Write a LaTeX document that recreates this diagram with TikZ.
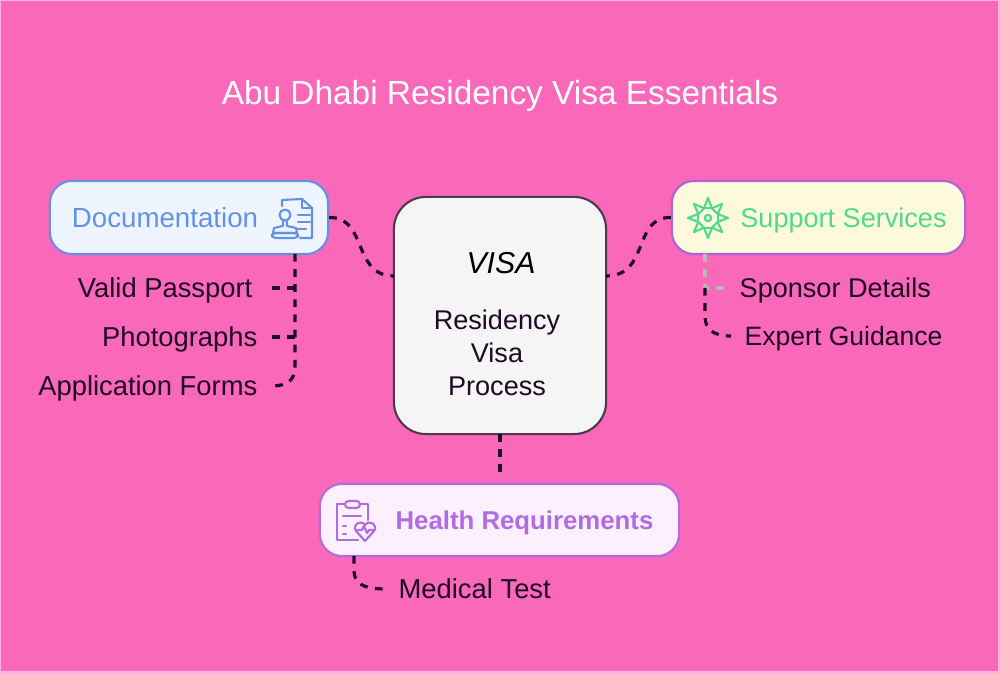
\documentclass[tikz,border=0pt]{standalone}
\usepackage{fontspec}
\setmainfont{Liberation Sans}
\definecolor{bg_edge}{HTML}{FBB4DE}
\definecolor{bg_pink}{HTML}{F968B9}
\definecolor{ink}{HTML}{1E0A22}
\definecolor{doc_blue}{HTML}{6492E2}
\definecolor{doc_fill}{HTML}{EFF5FF}
\definecolor{sup_green}{HTML}{52D88E}
\definecolor{sup_edge}{HTML}{A964D6}
\definecolor{sup_fill}{HTML}{FDF9DC}
\definecolor{hea_purple}{HTML}{B06CE2}
\definecolor{hea_fill}{HTML}{FCF0FE}
\begin{document}
\begin{tikzpicture}[
		x=0.01cm, y=-0.01cm,
		box/.style={rectangle, rounded corners=2.2mm, line width=0.6pt, minimum height=0.73cm, inner sep=0},
		item/.style={text=ink, font=\fontsize{7.78pt}{9pt}\selectfont, inner sep=0},
		link/.style={line width=0.9pt, dash pattern=on 2.2pt off 2.1pt, draw=ink},
		icon/.style={line width=0.6pt, line join=round, line cap=round}
	]
  \useasboundingbox (0,0) rectangle (1000,674);
  \fill[bg_edge] (0,0) rectangle (1000,674);
  \fill[bg_pink] (1.5,1) rectangle (998,671);
  \node (title) [anchor=base, text=white, font=\fontsize{9.5pt}{11pt}\selectfont, inner sep=0] at (500,104.5) {Abu Dhabi Residency Visa Essentials};
  % boxes
  \node (process) [box, rounded corners=3.2mm, draw=ink!80, fill=white!96!black, minimum width=2.12cm, minimum height=2.37cm] at (500,315.5) {};
  \node (visa) [anchor=base, inner sep=0, text=black, font=\fontsize{8.6pt}{11pt}\selectfont\itshape] at (501,274) {VISA};
  \node (process_text) [item, align=center, font=\fontsize{7.7pt}{9.4pt}\selectfont] at (497,353) {Residency\\Visa\\Process};
  \node (doc) [box, draw=doc_blue, fill=doc_fill, minimum width=2.78cm] at (189,217.5) {};
  \node (doc_text) [anchor=base, text=doc_blue, font=\fontsize{7.87pt}{9pt}\selectfont, inner sep=0] at (165,228) {Documentation};
  \node (sup) [box, draw=sup_edge, fill=sup_fill, minimum width=2.93cm] at (818.5,217.5) {};
  \node (sup_text) [anchor=base, text=sup_green, font=\fontsize{7.7pt}{9pt}\selectfont, inner sep=0] at (843.5,228) {Support Services};
  \node (hea) [box, draw=hea_purple, fill=hea_fill, minimum width=3.59cm, minimum height=0.72cm] at (499.5,520) {};
  \node (hea_text) [anchor=base, text=hea_purple, font=\fontsize{7.33pt}{9pt}\selectfont\bfseries, inner sep=0] at (524.5,530) {Health Requirements};
  % labels
  \node (passport) [item, anchor=base east] at (253,297.5) {Valid Passport};
  \node (photos) [item, anchor=base east] at (258,346.5) {Photographs};
  \node (forms) [item, anchor=base east] at (258,395.5) {Application Forms};
  \node (sponsor) [item, anchor=base west, font=\fontsize{7.7pt}{9pt}\selectfont] at (739,297.5) {Sponsor Details};
  \node (expert) [item, anchor=base west, font=\fontsize{7.55pt}{9pt}\selectfont] at (744,346) {Expert Guidance};
  \node (medical) [item, anchor=base west] at (398,599) {Medical Test};
  % free ends
  \coordinate (process_w) at (394,276);
  \coordinate (process_e) at (606,276);
  \coordinate (process_s) at (500,434);
  \coordinate (hea_n) at (500,476);
  \coordinate (doc_s) at (295,254);
  \coordinate (doc_j) at (295,288);
  \coordinate (doc_k) at (295,337);
  \coordinate (passport_e) at (272,288);
  \coordinate (photos_e) at (272,337);
  \coordinate (forms_e) at (271,386);
  \coordinate (sup_s) at (705,254);
  \coordinate (sup_j) at (705,288);
  \coordinate (sponsor_w) at (729,288);
  \coordinate (expert_w) at (731,336);
  \coordinate (hea_s) at (354,556);
  \coordinate (medical_w) at (386,589);
  % connectors
  \draw[link] (doc.east) .. controls (368,217) and (352,276) .. (process_w);
  \draw[link] (sup.west) .. controls (632,217) and (650,276) .. (process_e);
  \draw[link] (process_s) -- (hea_n);
  \draw[link] (doc_s) -- (295,366) .. controls (295,380) and (288,386) .. (forms_e);
  \draw[link] (doc_j) -- (passport_e);
  \draw[link] (doc_k) -- (photos_e);
  \draw[link, draw=black!28] (sup_s) -- (sup_j) -- (sponsor_w);
  \draw[link] (sup_j) -- (705,316) .. controls (705,330) and (714,336) .. (expert_w);
  \draw[link] (hea_s) -- (354,570) .. controls (354,583) and (362,589) .. (medical_w);
  % documentation icon
  \begin{scope}[icon, draw=doc_blue]
    \draw (282,206) -- (282,200) -- (302,199) -- (312,208) -- (312,238) -- (300,238);
    \draw (302,199) -- (302,208) -- (312,208);
    \draw (285,215) circle (5.5);
    \draw (283,220) -- (283,226) -- (274,228) -- (273,233) -- (297,233) -- (296,228) -- (287,226) -- (287,220);
    \draw[rounded corners=1pt] (272,233) rectangle (298,238);
    \foreach \y/\x in {215/310, 222/310, 229/306}
      \draw (298,\y) -- (\x,\y);
  \end{scope}
  % support icon
  \begin{scope}[icon, draw=sup_green, shift={(708,218)}]
    \foreach \a in {0,45,...,315} {
      \draw (\a:20) -- (\a+22.5:10.5) -- (\a+45:20);
      \draw (\a+22.5:10.5) -- (\a+67.5:10.5);
    }
    \draw (0,0) circle (3.2);
  \end{scope}
  % health icon
  \begin{scope}[icon, draw=hea_purple]
    \draw (345,504) -- (337,504) -- (337,540) -- (358,540);
    \draw (360,504) -- (368,504) -- (368,520);
    \draw[rounded corners=1pt] (345,501) rectangle (360,508);
    \foreach \y/\x in {516/361, 526/346, 534/346}
      \draw (343,\y) -- (\x,\y);
    \draw (365,541) -- (356,531) .. controls (352,525) and (360,519) .. (365,525) .. controls (370,519) and (378,525) .. (374,531) -- cycle;
    \draw (357,530) -- (362,530) -- (364,526) -- (367,533) -- (369,530) -- (373,530);
  \end{scope}
\end{tikzpicture}
\end{document}
